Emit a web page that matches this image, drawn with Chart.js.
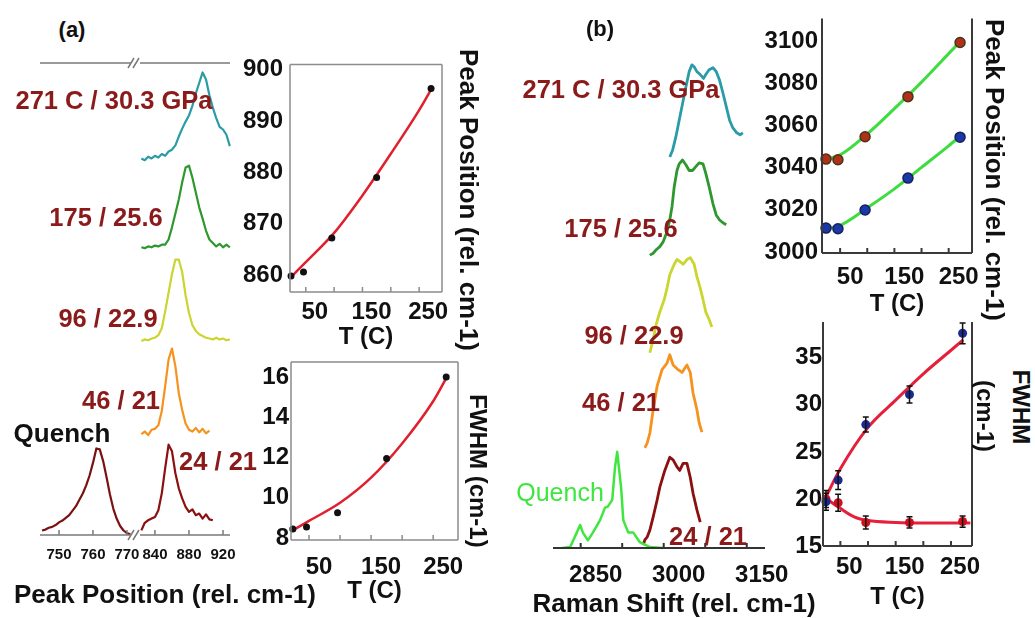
<!DOCTYPE html>
<html>
<head>
<meta charset="utf-8">
<title>Raman spectra vs temperature</title>
<script src="https://cdn.jsdelivr.net/npm/chart.js"></script>
<style>
    body { margin: 0; background: #fff; }
    #fig { position: relative; width: 1035px; height: 618px; overflow: hidden; background: #fff;
           font-family: 'Liberation Sans', Arial, sans-serif; font-weight: bold; color: #111; }
    #fig canvas { position: absolute; }
    .lbl { position: absolute; white-space: nowrap; line-height: 1; transform: translate(-50%, -50%); }
    .vert { writing-mode: vertical-rl; }
</style>
</head>
<body>
<div id="fig"></div>
<script>
// runs: temperature (C) / pressure (GPa)
const tempC = [24, 46, 96, 175, 271];
const pressGPa = [21, 21, 22.9, 25.6, 30.3];

// (a) low-frequency band, intensity normalised to 100
const shiftA = [824, 828, 832, 836, 840, 844, 848, 852, 856, 860, 864, 868, 872, 876,
                880, 884, 888, 892, 896, 900, 904, 908, 912, 916, 920, 924, 928];
const specA24 = [-4, 5, 8, 10, 12, 20, 40, 70, 98, 90, 64, 46, 34, 24, 18, 21, 14, 16, 10, 15, 9, 8];
const specA46 = [4, 7, 3, 9, 10, 14, 30, 58, 88, 100, 80, 50, 31, 16, 9, 7, 11, 6, 10, 5, 8];
const specA96 = [1, 3, 2, 4, 5, 8, 16, 36, 58, 80, 97, 97, 82, 55, 34, 20, 13, 9, 7, 5, 4, 3, 5, 3, 4, 2, 3];
const specA175 = [3, 2, 4, 3, 5, 4, 6, 6, 12, 26, 42, 58, 78, 95, 97, 83, 66, 49, 36, 22, 12, 8, 4, 7, 3, 6, 3];
const specA271 = [2, 0, 4, 2, 5, 3, 7, 5, 10, 12, 17, 27, 36, 44, 51, 62, 76, 88, 100, 92, 74, 60, 48, 38, 35, 29, 16];
const shiftQuenchA = [745, 746, 747, 748, 749, 750, 751, 752, 753, 754, 755, 756, 757, 758,
                      759, 760, 761, 762, 763, 764, 765, 766, 767, 768, 769, 770, 771];
const specQuenchA = [5, 6, 8, 9, 11, 14, 16, 19, 22, 27, 32, 39, 46, 55, 66, 80, 96, 95, 82, 64, 45, 29, 18, 10, 5, 2, 1];

// (b) C-H stretch region
const shiftB24 = [2963, 2966, 2970, 2975, 2981, 2988, 2993, 3002, 3011, 3017, 3024, 3029, 3035, 3042, 3048, 3053, 3060, 3066];
const specB24 = [0, 6, 9, 17, 32, 51, 66, 85, 100, 97, 89, 85, 93, 93, 77, 59, 40, 26];
const shiftB46 = [2966, 2970, 2975, 2981, 2988, 2997, 3006, 3011, 3017, 3026, 3033, 3042, 3048, 3053, 3060, 3064, 3069];
const specB46 = [0, 5, 16, 41, 66, 84, 91, 100, 89, 84, 81, 89, 81, 59, 41, 27, 17];
const shiftB96 = [2975, 2981, 2986, 2993, 3001, 3006, 3011, 3019, 3024, 3029, 3035, 3042, 3048, 3055, 3060, 3066, 3071, 3076, 3082, 3087];
const specB96 = [0, 14, 29, 43, 56, 68, 82, 93, 98, 96, 93, 98, 100, 93, 80, 68, 56, 43, 35, 27];
const shiftB175 = [2975, 2981, 2987, 2993, 2999, 3005, 3011, 3015, 3019, 3024, 3028, 3034, 3040, 3046, 3052,
                   3058, 3064, 3071, 3076, 3082, 3089, 3095, 3101, 3107, 3113];
const specB175 = [0, 2, 6, 9, 14, 23, 37, 51, 72, 89, 96, 100, 95, 89, 89, 93, 97, 96, 86, 72, 54, 42, 37, 34, 32];
const shiftB271 = [3011, 3016, 3022, 3028, 3034, 3040, 3046, 3051, 3055, 3060, 3066, 3072, 3076, 3082,
                   3089, 3095, 3101, 3107, 3113, 3119, 3125, 3132, 3138, 3143];
const specB271 = [3, 10, 24, 41, 58, 75, 91, 98, 96, 91, 88, 84, 88, 93, 95, 91, 82, 69, 55, 41, 33, 28, 26, 28];
const shiftQuenchB = [2816, 2831, 2843, 2849, 2854, 2863, 2872, 2885, 2894, 2899, 2907, 2912, 2916, 2923, 2927, 2936, 2945, 2957, 2975, 2999];
const specQuenchB = [0, 1, 16, 24, 16, 8, 16, 29, 42, 43, 50, 84, 100, 63, 29, 16, 16, 6, 1, 0];

// fitted peak parameters
const peakA = [859.8, 860.6, 867.2, 879.0, 896.3];
const fwhmA = [8.45, 8.55, 9.25, 11.95, 16.0];
const peakBhi = [3044.0, 3043.7, 3054.6, 3073.6, 3099.3];
const peakBlo = [3011.3, 3011.0, 3019.9, 3035.0, 3054.4];
const fwhmBhi = [19.7, 22.0, 27.9, 31.1, 37.6];
const fwhmBhiErr = [0.9, 1.0, 0.8, 0.9, 1.1];
const fwhmBlo = [20.0, 19.6, 17.5, 17.5, 17.6];
const fwhmBloErr = [0.9, 0.9, 0.7, 0.6, 0.6];

// smooth fits through the points
const fitT = [22, 50, 100, 150, 200, 250, 272];
const peakFitA = [859.4, 862.5, 868.2, 875.5, 883.6, 892.1, 896.3];
const fwhmFitA = [8.35, 8.85, 9.75, 11.0, 12.7, 14.8, 16.0];
const peakFitBhi = [3043.6, 3046.0, 3055.9, 3067.9, 3080.5, 3094.0, 3100.0];
const peakFitBlo = [3010.8, 3012.6, 3020.9, 3029.9, 3040.1, 3050.3, 3055.0];
const fwhmFitBhi = [20.0, 23.2, 27.6, 30.5, 33.3, 35.8, 36.9];
const fitTlow = [22, 35, 50, 75, 100, 150, 200, 250, 285];
const fwhmFitBlo = [20.2, 19.6, 19.0, 18.1, 17.7, 17.5, 17.45, 17.45, 17.45];

// ticks
const tTicks = [50, 100, 150, 200, 250];
const tLabelled = [50, 150, 250];
const quenchTicksA = [750, 760, 770];
const shiftTicksA = [840, 880, 920];
const shiftTicksB = [2850, 2925, 3000, 3075, 3150];
const shiftLabelledB = [2850, 3000, 3150];
const peakTicksA = [860, 870, 880, 890, 900];
const fwhmTicksA = [8, 10, 12, 14, 16];
const peakTicksB = [3000, 3020, 3040, 3060, 3080, 3100];
const fwhmTicksB = [15, 20, 25, 30, 35];

// ---- drawing ----
const runColours = ['#8b1010', '#f5931e', '#cbd530', '#2e982e', '#2b9ba7'];
const stackA = [[1.7, 17.8], [20.6, 18.9], [40.9, 18.0], [60.4, 18.4], [79.4, 18.6]];
const stackB = [[0.6, 17.8], [20.3, 18.9], [39.6, 19.3], [59.4, 19.3], [78.7, 19.7]];

Chart.defaults.font.family = "'Liberation Sans', Arial, sans-serif";
Chart.defaults.font.weight = 'bold';
Chart.defaults.font.size = 24;
Chart.defaults.color = '#111';

const fig = document.getElementById('fig');

// axis lines, inward tick marks and the axis break, drawn on top of the datasets
const decor = {
    id: 'decor',
    afterDraw(chart, args, o) {
        const {ctx, chartArea: a} = chart;
        const sides = o.sides || '';
        ctx.save();
        ctx.strokeStyle = o.color || '#777';
        ctx.lineWidth = o.width || 1.5;
        ctx.beginPath();
        if (sides.includes('t')) { ctx.moveTo(a.left, a.top); ctx.lineTo(a.right, a.top); }
        if (sides.includes('b')) { ctx.moveTo(a.left, a.bottom); ctx.lineTo(a.right, a.bottom); }
        if (sides.includes('l')) { ctx.moveTo(a.left, a.top); ctx.lineTo(a.left, a.bottom); }
        if (sides.includes('r')) { ctx.moveTo(a.right, a.top); ctx.lineTo(a.right, a.bottom); }
        if (o.xTicks) {
            const sx = chart.scales.x;
            for (const t of sx.ticks) {
                const p = sx.getPixelForValue(t.value);
                ctx.moveTo(p, a.bottom);
                ctx.lineTo(p, a.bottom - 5);
            }
        }
        if (o.breakLeft) {
            for (const y of [a.top, a.bottom]) {
                for (const x of [a.left - 9, a.left - 4]) {
                    ctx.moveTo(x - 3, y + 5);
                    ctx.lineTo(x + 3, y - 5);
                }
            }
        }
        ctx.stroke();
        ctx.restore();
    }
};

const errorBars = {
    id: 'errorBars',
    afterDatasetsDraw(chart) {
        const {ctx} = chart;
        const sx = chart.scales.x, sy = chart.scales.y;
        ctx.save();
        ctx.strokeStyle = '#111';
        ctx.lineWidth = 1.5;
        for (const ds of chart.data.datasets) {
            if (!ds.errors) continue;
            ds.data.forEach((p, i) => {
                const px = sx.getPixelForValue(p.x);
                const lo = sy.getPixelForValue(p.y - ds.errors[i]);
                const hi = sy.getPixelForValue(p.y + ds.errors[i]);
                ctx.beginPath();
                ctx.moveTo(px, lo); ctx.lineTo(px, hi);
                ctx.moveTo(px - 3, lo); ctx.lineTo(px + 3, lo);
                ctx.moveTo(px - 3, hi); ctx.lineTo(px + 3, hi);
                ctx.stroke();
            });
        }
        ctx.restore();
    }
};

function addCanvas(box) {
    const c = document.createElement('canvas');
    c.width = box.width;
    c.height = box.height;
    Object.assign(c.style, {
        left: box.left + 'px', top: box.top + 'px',
        width: box.width + 'px', height: box.height + 'px'
    });
    fig.appendChild(c);
    return c;
}

function makeChart(box, datasets, scales, decorOpts, extra = []) {
    return new Chart(addCanvas(box), {
        type: 'scatter',
        data: {datasets},
        options: {
            responsive: false,
            devicePixelRatio: 1,
            animation: false,
            layout: {padding: box.pad},
            scales,
            plugins: {legend: {display: false}, tooltip: {enabled: false}, decor: decorOpts}
        },
        plugins: [decor, ...extra]
    });
}

function xAxis(o) {
    return {
        type: 'linear', min: o.min, max: o.max,
        afterBuildTicks: s => { s.ticks = o.ticks.map(v => ({value: v})); },
        afterFit: s => { s.height = o.height; },
        ticks: {
            autoSkip: false, maxRotation: 0, padding: o.pad, labelOffset: o.offset || 0,
            font: {size: o.size || 24},
            callback: v => (!o.labelled || o.labelled.includes(v)) ? String(v) : ''
        },
        grid: {display: false, drawTicks: false},
        border: {display: false},
        title: o.title
            ? {display: true, text: o.title, font: {size: 24}, padding: {top: 0, bottom: o.titlePad}}
            : {display: false}
    };
}

function yAxis(o) {
    return {
        type: 'linear', min: o.min, max: o.max,
        afterBuildTicks: s => { s.ticks = o.ticks.map(v => ({value: v})); },
        afterFit: s => { s.width = o.width; },
        ticks: {autoSkip: false, padding: o.pad, callback: v => String(v)},
        grid: {display: false, drawTicks: false},
        border: {display: false}
    };
}

const hiddenY = {type: 'linear', min: 0, max: 100, display: false};

const pts = (xs, ys) => ys.map((y, i) => ({x: xs[i], y}));
const stacked = (xs, ys, [off, h]) => ys.map((y, i) => ({x: xs[i], y: off + y * h / 100}));

function trace(data, colour, width) {
    return {data, showLine: true, borderColor: colour, borderWidth: width, pointRadius: 0, tension: 0,
            borderJoinStyle: 'round', clip: false};
}
function fit(data, colour, width) {
    return {data, showLine: true, borderColor: colour, borderWidth: width, pointRadius: 0,
            cubicInterpolationMode: 'monotone', clip: false};
}
function marks(data, fill, r, edge) {
    return {data, showLine: false, pointRadius: r, backgroundColor: fill,
            borderColor: edge || fill, borderWidth: edge ? 1.5 : 0, clip: false};
}

// (a) quenched sample, left of the axis break
makeChart({left: 0, top: 43, width: 160, height: 545, pad: {top: 20, left: 40, right: 29, bottom: 0}},
    [trace(stacked(shiftQuenchA, specQuenchA, [0, 19.1]), '#7a1212', 2.2)],
    {x: xAxis({min: 744.4, max: 771.2, ticks: quenchTicksA, height: 53, pad: 11, size: 15}), y: hiddenY},
    {sides: 'tb', xTicks: true, color: '#7a7a7a'});

// (a) spectra at temperature
const specA = [specA24, specA46, specA96, specA175, specA271];
makeChart({left: 120, top: 43, width: 130, height: 545, pad: {top: 20, left: 20, right: 20, bottom: 0}},
    specA.map((s, i) => trace(stacked(shiftA, s, stackA[i]), runColours[i], 2.2)),
    {x: xAxis({min: 822.4, max: 928.2, ticks: shiftTicksA, height: 53, pad: 11, size: 15}), y: hiddenY},
    {sides: 'tb', xTicks: true, breakLeft: true, color: '#7a7a7a'});

// (a) peak position vs T
makeChart({left: 220, top: 43, width: 240, height: 312, pad: {top: 20, left: 0, right: 18, bottom: 0}},
    [marks(pts(tempC, peakA), '#111', 3.5), fit(pts(fitT, peakFitA), '#e0202c', 2.5)],
    {x: xAxis({min: 22.2, max: 290.3, ticks: tTicks, labelled: tLabelled, height: 63, pad: 6, offset: 9,
               title: 'T (C)', titlePad: 3}),
     y: yAxis({min: 856.7, max: 901, ticks: peakTicksA, width: 70, pad: 7})},
    {sides: 'tblr', xTicks: true, color: '#8c8c8c'});

// (a) FWHM vs T
makeChart({left: 220, top: 342, width: 250, height: 276, pad: {top: 20, left: 0, right: 12, bottom: 0}},
    [marks(pts(tempC, fwhmA), '#111', 3.5), fit(pts(fitT, fwhmFitA), '#e0202c', 2.5)],
    {x: xAxis({min: 21, max: 290, ticks: tTicks, labelled: tLabelled, height: 78, pad: 13, offset: 10,
               title: 'T (C)', titlePad: 12}),
     y: yAxis({min: 7.9, max: 16.75, ticks: fwhmTicksA, width: 71, pad: 2})},
    {sides: 'tblr', xTicks: true, color: '#8c8c8c'});

// (b) spectra, quench at the bottom
const specB = [[shiftB24, specB24], [shiftB46, specB46], [shiftB96, specB96], [shiftB175, specB175], [shiftB271, specB271]];
makeChart({left: 520, top: 35, width: 280, height: 583, pad: {top: 20, left: 33, right: 35, bottom: 0}},
    [trace(stacked(shiftQuenchB, specQuenchB, [0, 19.5]), '#3ee63e', 2.5),
     ...specB.map(([xs, s], i) => trace(stacked(xs, s, stackB[i]), runColours[i], 2.8))],
    {x: xAxis({min: 2800, max: 3183, ticks: shiftTicksB, labelled: shiftLabelledB, height: 70, pad: 13, offset: 15}),
     y: hiddenY},
    {sides: 'b', xTicks: true, color: '#333', width: 2});

// (b) peak positions of the doublet
makeChart({left: 740, top: 0, width: 250, height: 330, pad: {top: 15, left: 0, right: 18, bottom: 0}},
    [marks(pts(tempC, peakBhi), '#b0301c', 5, '#4a3418'),
     marks(pts(tempC, peakBlo), '#1c38a8', 5, '#16205a'),
     fit(pts(fitT, peakFitBhi), '#3fdc3f', 3),
     fit(pts(fitT, peakFitBlo), '#3fdc3f', 3)],
    {x: xAxis({min: 16.6, max: 293, ticks: tTicks, labelled: tLabelled, height: 77, pad: 10, offset: 10,
               title: 'T (C)', titlePad: 11}),
     y: yAxis({min: 2999.5, max: 3110.7, ticks: peakTicksB, width: 82, pad: 4})},
    {sides: 'blr', xTicks: true, color: '#3a3a3a', width: 2});

// (b) FWHM of the doublet
makeChart({left: 740, top: 300, width: 250, height: 318, pad: {top: 22, left: 0, right: 18, bottom: 0}},
    [Object.assign(marks(pts(tempC, fwhmBhi), '#1a2a90', 4.5), {errors: fwhmBhiErr}),
     Object.assign(marks(pts(tempC, fwhmBlo), '#d0101c', 4.5), {errors: fwhmBloErr}),
     fit(pts(fitT, fwhmFitBhi), '#e4203a', 3),
     fit(pts(fitTlow, fwhmFitBlo), '#e4203a', 3)],
    {x: xAxis({min: 18.6, max: 288, ticks: tTicks, labelled: tLabelled, height: 72, pad: 7, offset: 9,
               title: 'T (C)', titlePad: 6}),
     y: yAxis({min: 15, max: 38.8, ticks: fwhmTicksB, width: 83, pad: 1})},
    {sides: 'blr', xTicks: true, color: '#3a3a3a', width: 2},
    [errorBars]);

// ---- text ----
function note(text, x, y, css, vertical) {
    const d = document.createElement('div');
    d.className = vertical ? 'lbl vert' : 'lbl';
    d.textContent = text;
    Object.assign(d.style, {left: x + 'px', top: y + 'px'}, css);
    fig.appendChild(d);
}

const runLabel = i => i === tempC.length - 1
    ? `${tempC[i]} C / ${pressGPa[i]} GPa`
    : `${tempC[i]} / ${pressGPa[i]}`;
const runStyle = {fontSize: '25.5px', color: '#8b1a1a'};
const runPosA = [[218, 462], [121, 401], [108, 319], [106, 218], [114, 101]];
const runPosB = [[708, 537], [621, 403], [634, 336], [621, 229], [621, 90]];
tempC.forEach((t, i) => {
    note(runLabel(i), runPosA[i][0], runPosA[i][1], runStyle);
    note(runLabel(i), runPosB[i][0], runPosB[i][1], runStyle);
});

note('(a)', 72, 30, {fontSize: '22px'});
note('(b)', 600, 29, {fontSize: '22px'});
note('Quench', 62, 433, {fontSize: '26px'});
note('Quench', 560, 492, {fontSize: '25px', fontWeight: 'normal', color: '#3ee63e'});
note('Peak Position (rel. cm-1)', 165, 594, {fontSize: '26px'});
note('Raman Shift (rel. cm-1)', 674, 603, {fontSize: '26px'});
note('Peak Position (rel. cm-1)', 469, 200, {fontSize: '26px'}, true);
note('FWHM (cm-1)', 478, 471, {fontSize: '24px'}, true);
note('Peak Position (rel. cm-1)', 995, 170, {fontSize: '26px'}, true);
note('FWHM', 1021, 407, {fontSize: '24px'}, true);
note('(cm-1)', 985, 416, {fontSize: '24px'}, true);
</script>
</body>
</html>
